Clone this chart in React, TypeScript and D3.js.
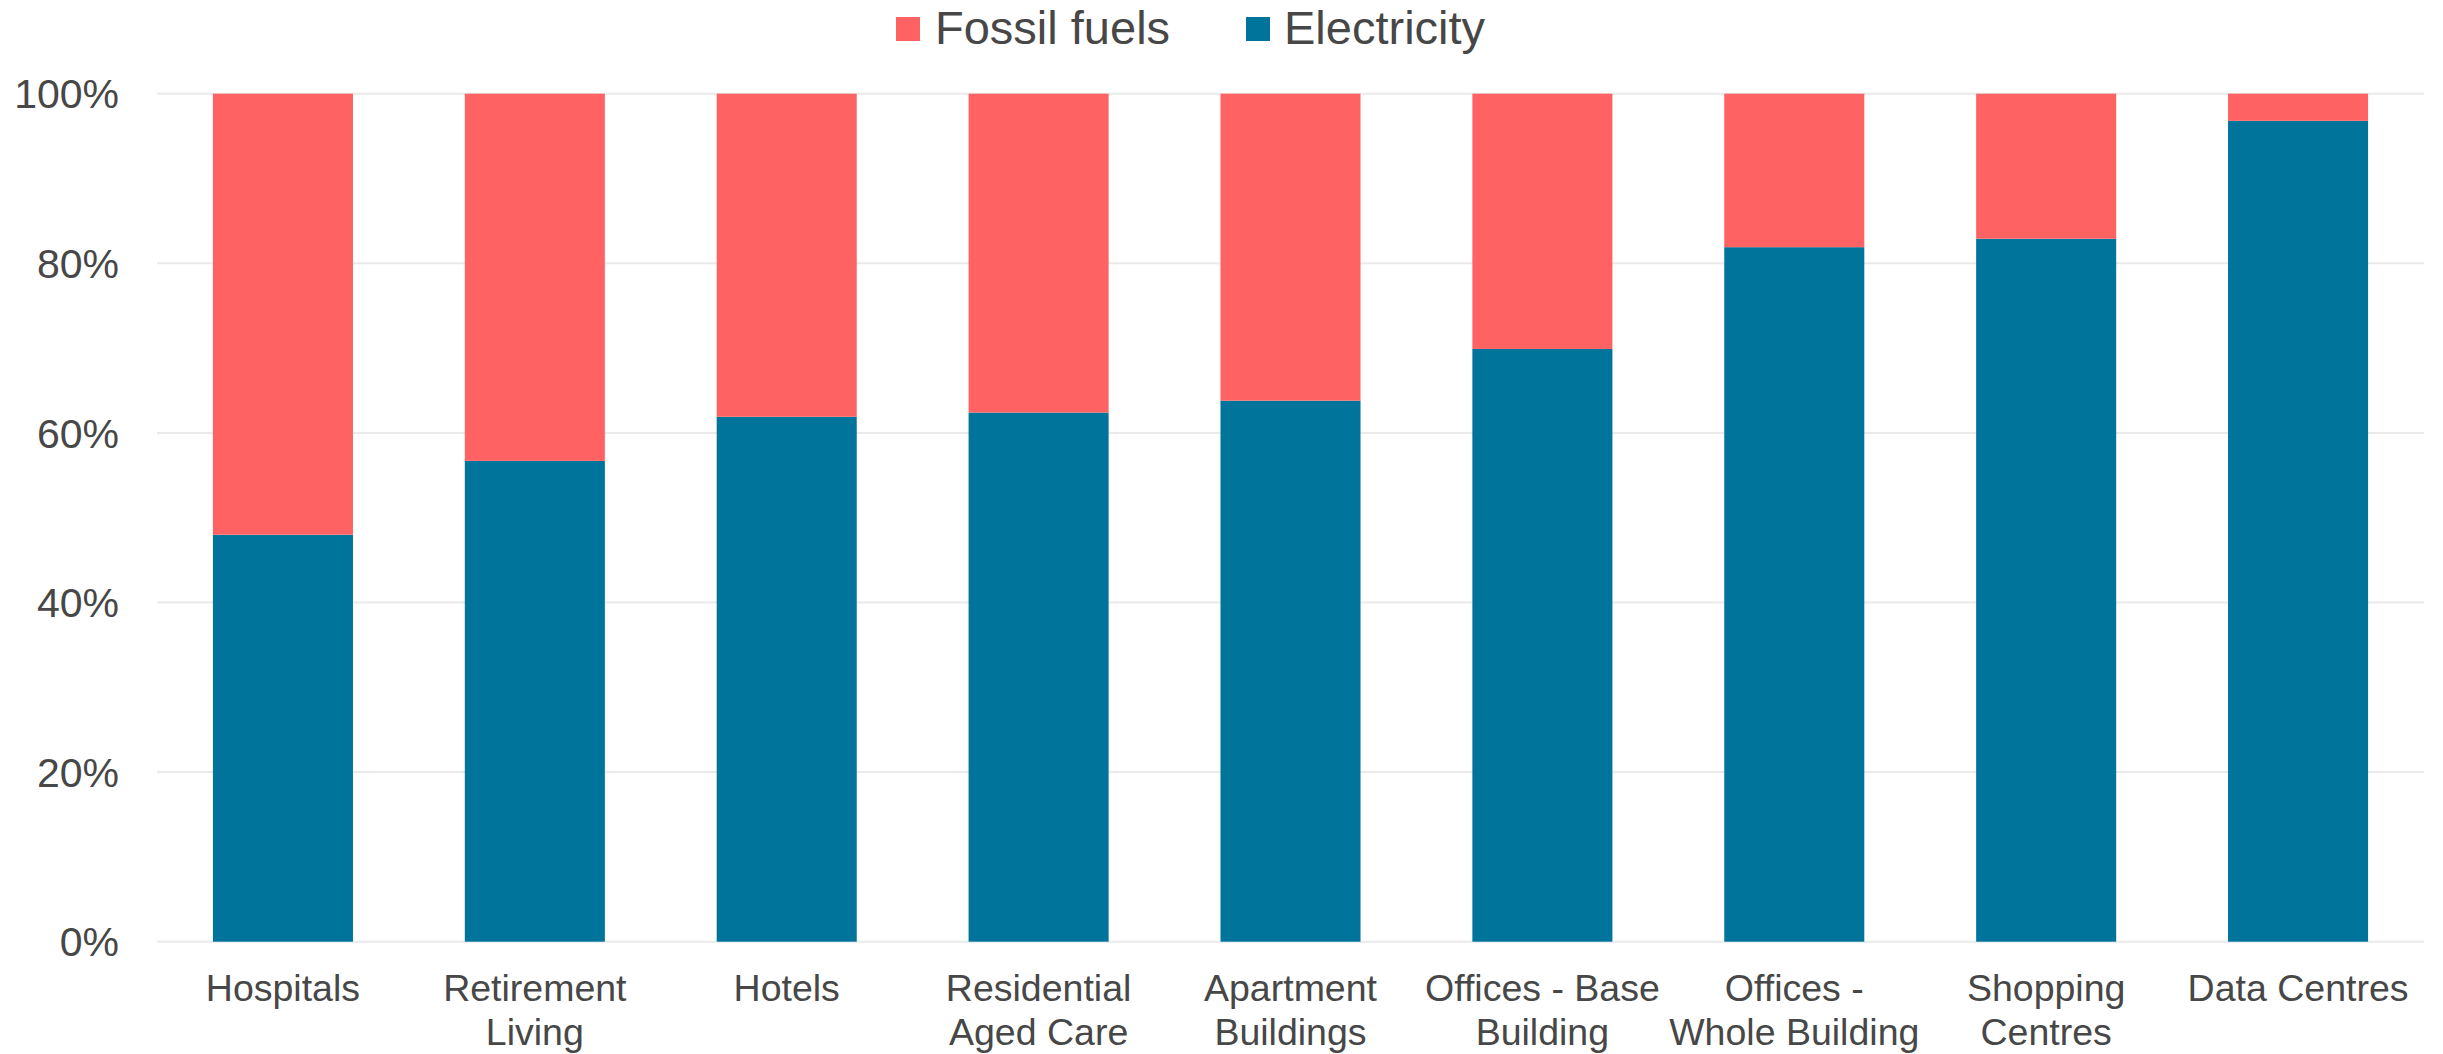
import React from "react";
import * as d3 from "d3";

const categories = [
  "Hospitals",
  "Retirement Living",
  "Hotels",
  "Residential Aged Care",
  "Apartment Buildings",
  "Offices - Base Building",
  "Offices - Whole Building",
  "Shopping Centres",
  "Data Centres",
];
const categoryLines: string[][] = [
  ["Hospitals"],
  ["Retirement", "Living"],
  ["Hotels"],
  ["Residential", "Aged Care"],
  ["Apartment", "Buildings"],
  ["Offices - Base", "Building"],
  ["Offices -", "Whole Building"],
  ["Shopping", "Centres"],
  ["Data Centres"],
];
const electricity = [0.48, 0.567, 0.619, 0.624, 0.638, 0.699, 0.819, 0.829, 0.968];
const fossilFuels = electricity.map((e) => 1 - e);
const yTicks = [0, 0.2, 0.4, 0.6, 0.8, 1];
const seriesNames = ["Fossil fuels", "Electricity"];
const colors = { fossil: "#FF6262", electricity: "#00749A" };

const W = 2443;
const H = 1054;
const FONT = "Arial, 'Liberation Sans', Helvetica, sans-serif";
const TEXT = "#474747";

export default function App() {
  const x = d3
    .scaleBand<string>()
    .domain(categories)
    .range([157, 2424])
    .paddingInner(0.444)
    .paddingOuter(0.222);
  const y = d3.scaleLinear().domain([0, 1]).range([941.7, 93.7]);
  const fmt = d3.format(".0%");

  return (
    <svg
      width={W}
      height={H}
      style={{ position: "absolute", left: 0, top: 0, display: "block", background: "#fff" }}
      fontFamily={FONT}
    >
      {/* gridlines */}
      {yTicks.map((t) => (
        <line key={t} x1={157} x2={2424} y1={y(t)} y2={y(t)} stroke="#EAEAEA" strokeWidth={2} />
      ))}
      {/* y labels */}
      {yTicks.map((t) => (
        <text
          key={"l" + t}
          x={119}
          y={y(t)}
          dy="0.36em"
          textAnchor="end"
          fontSize={41}
          fill={TEXT}
        >
          {fmt(t)}
        </text>
      ))}
      {/* bars */}
      {categories.map((c, i) => {
        const x0 = x(c)!;
        const bw = x.bandwidth();
        const e = electricity[i];
        const f = fossilFuels[i];
        return (
          <g key={c}>
            <rect x={x0} y={y(e)} width={bw} height={y(0) - y(e)} fill={colors.electricity} />
            <rect x={x0} y={y(e + f)} width={bw} height={y(e) - y(e + f)} fill={colors.fossil} />
          </g>
        );
      })}
      {/* x labels */}
      {categories.map((c, i) => (
        <text
          key={"x" + c}
          x={x(c)! + x.bandwidth() / 2}
          y={1000.5}
          textAnchor="middle"
          fontSize={37.5}
          fill={TEXT}
        >
          {categoryLines[i].map((ln, j) => (
            <tspan key={j} x={x(c)! + x.bandwidth() / 2} dy={j === 0 ? 0 : 44.5}>
              {ln}
            </tspan>
          ))}
        </text>
      ))}
      {/* legend */}
      <rect x={896} y={17} width={24} height={24} fill={colors.fossil} />
      <text x={935} y={44} fontSize={47} fill={TEXT}>
        {seriesNames[0]}
      </text>
      <rect x={1246} y={17} width={24} height={24} fill={colors.electricity} />
      <text x={1284} y={44} fontSize={47} fill={TEXT}>
        {seriesNames[1]}
      </text>
    </svg>
  );
}
